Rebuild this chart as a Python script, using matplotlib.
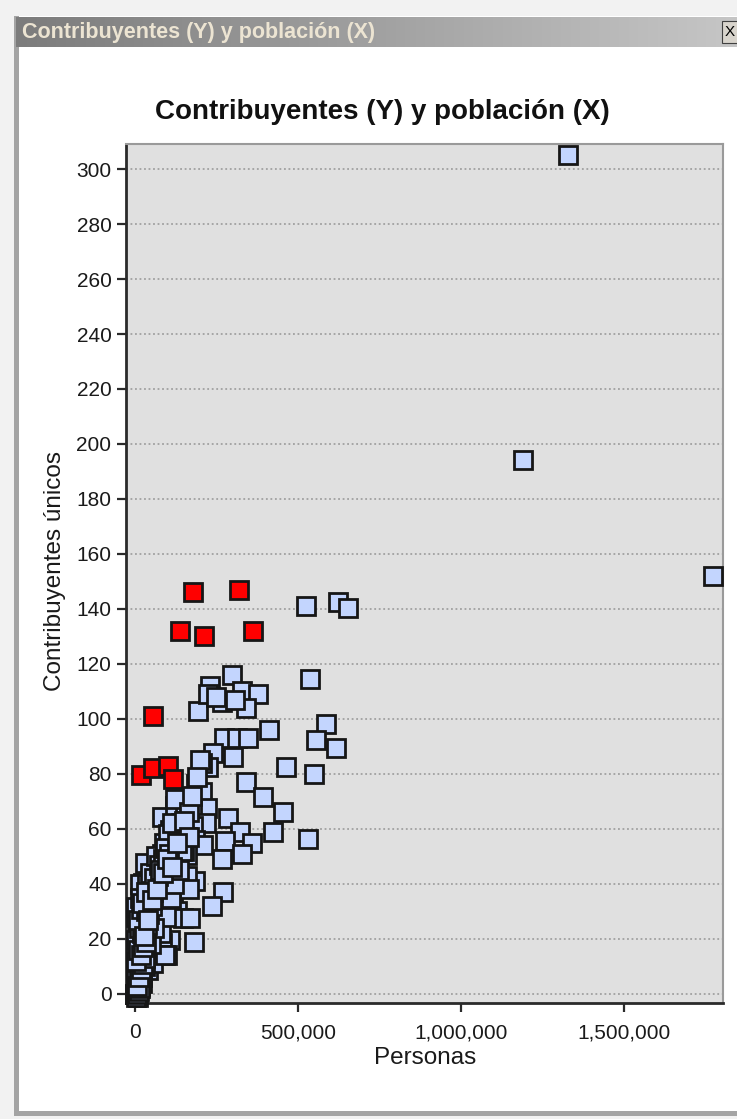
import matplotlib.pyplot as plt
import numpy as np
from matplotlib.patches import Rectangle
from matplotlib.ticker import FuncFormatter

plt.rcParams['font.family'] = ['Liberation Sans', 'DejaVu Sans']

W, H = 737, 1119

## data: poblacion (personas) vs contribuyentes unicos

blue_x = [1328000, 1190000, 1773000,
          525000, 623000, 653000,
          537000, 297000, 230000, 328000, 377000, 267000, 193000, 340000, 307000, 224000, 250000,
          411000, 586000, 555000, 617000, 273000, 312000, 347000,
          301000, 239000, 224000, 206000, 200000,
          463000, 549000, 340000, 393000, 187000, 206000, 190000,
          454000, 285000, 221000, 82000, 123000, 153000, 175000, 123000,
          423000, 530000, 322000, 107000, 181000, 218000, 178000, 140000,
          359000, 276000, 184000, 208000, 160000, 130000,
          328000, 267000, 82000, 160000, 107000, 150000,
          107000, 144000, 184000, 46000, 25000, 55000, 86000, 117000, 160000,
          270000, 236000, 166000, 181000,
          61000, 130000, 147000, 169000, 70000, 9000, 107000, 40000, 82000, 98000,
          25000, 40000, 6000, 9000, 55000, 92000, 2000, 3000, 2000, 15000, 2000,
          40000, 67000, 31000,
          5000, 10000, 15000, 20000, 30000, 12000, 20000, 35000, 45000, 50000,
          60000, 75000, 90000, 100000, 65000, 70000, 80000, 95000, 110000, 120000,
          125000, 135000, 88000, 100000, 115000, 145000, 165000, 150000, 175000, 165000,
          3000, 8000, 14000, 1000, 18000, 28000, 22000, 50000, 36000, 58000,
          4000, 7000, 11000, 16000, 2000, 6000, 13000, 19000, 24000, 30000,
          4000, 9000, 17000, 26000, 33000, 12000, 21000, 38000, 44000, 52000,
          10000, 18000, 27000, 35000, 43000, 48000, 56000, 63000, 72000, 78000,
          14000, 29000, 37000, 47000, 57000, 64000, 73000, 85000, 93000, 104000,
          23000, 33000, 41000, 53000, 68000, 78000, 87000, 97000, 112000, 128000]
blue_y = [305, 194, 152,
          141, 142.5, 140.5,
          114.5, 116, 112, 110, 109, 106, 103, 104, 107, 109, 108,
          96, 98, 92.5, 89.5, 93, 93, 93,
          86, 87.5, 82.5, 84, 85,
          82.5, 80, 77, 71.5, 76.5, 73.5, 79,
          66, 64, 67.5, 64.5, 68.5, 69.5, 67, 71,
          59, 56.5, 59, 59.5, 60, 62, 61, 62,
          55, 55.5, 56, 54, 57, 57,
          51, 49, 51, 50.5, 52, 52,
          44, 40, 41, 44, 40.5, 37, 35, 33.5, 43,
          37, 32, 38, 19,
          30, 30, 27.5, 27.5, 26, 23, 19.5, 17, 18.5, 14,
          13.5, 8.7, 3.3, -1, 11.3, 14, 8.7, 28, 31.6, 40, 19.6,
          46, 48, 47.5,
          0, 2, 5, 6, 10, 12, 20, 22, 25, 28,
          33, 38, 42, 45, 40, 30, 22, 28, 35, 40,
          48, 45, 55, 58, 62, 52, 66, 63, 72, 57,
          0, 1, 3, 0, 7, 15, 4, 18, 26, 24,
          -1, 0, 1, 2, 5, 3, 6, 9, 11, 13,
          12, 16, 14, 17, 19, 24, 22, 25, 29, 32,
          27, 31, 34, 30, 36, 39, 37, 41, 43, 46,
          35, 21, 40, 44, 42, 50, 47, 49, 53, 51,
          33, 37, 27, 34, 38, 45, 44, 49, 46, 55]

red_x = [18000, 55000, 100000, 117000, 55000, 138000, 178000, 212000, 319000, 362000]
red_y = [79.5, 82, 83, 78, 101, 132, 146, 130, 147, 132]

xticks = [0, 500000, 1000000, 1500000]
yticks = list(range(0, 301, 20))


def frac(x0, y0, w, h):
    return [x0 / W, 1 - (y0 + h) / H, w / W, h / H]


fig = plt.figure(figsize=(W / 100, H / 100), dpi=100)
fig.patch.set_facecolor('white')

# window chrome
for (x0, y0, w, h, c) in [(0, 0, W, 16, '#f2f2f2'), (0, 0, 14, H, '#f2f2f2'),
                          (14, 16, 5, 1100, '#a4a4a4'), (14, 1111, W, 5, '#a4a4a4'),
                          (0, 1116, W, 3, '#f2f2f2')]:
    r = frac(x0, y0, w, h)
    fig.add_artist(Rectangle((r[0], r[1]), r[2], r[3], transform=fig.transFigure,
                             facecolor=c, edgecolor='none', zorder=0))

bar = fig.add_axes(frac(16, 17, 721, 30))
grad = np.linspace(0, 1, 256).reshape(1, -1)
bar.imshow(grad, aspect='auto', cmap=plt.matplotlib.colors.LinearSegmentedColormap.from_list(
    'tb', ['#7c7c7c', '#c6c6c6']), extent=[0, 1, 0, 1])
bar.set_axis_off()
bar.text(0.009, 0.47, 'Contribuyentes (Y) y población (X)', transform=bar.transAxes,
         color='#ece4d2', fontsize=15.5, fontweight='bold', va='center', ha='left')
btn = frac(722, 21, 16, 22)
fig.add_artist(Rectangle((btn[0], btn[1]), btn[2], btn[3], transform=fig.transFigure,
                         facecolor='#d8d4cc', edgecolor='#404040', lw=0.8, zorder=5))
fig.text(730 / W, 1 - 32 / H, 'X', fontsize=11, ha='center', va='center', zorder=6)

fig.text(382 / W, 1 - 112 / H, 'Contribuyentes (Y) y población (X)', fontsize=20,
         fontweight='bold', ha='center', va='center', color='#111111')

ax = fig.add_axes(frac(126, 144, 597, 859))
ax.set_facecolor('#e0e0e0')
ax.plot(blue_x, blue_y, 's', color='#c3d5fe', markeredgecolor='#161616',
        markersize=12.5, markeredgewidth=2, linestyle='none', zorder=3, clip_on=False)
ax.plot(red_x, red_y, 's', color='#ff0000', markeredgecolor='#161616',
        markersize=12.5, markeredgewidth=2, linestyle='none', zorder=4)

ax.set_xlim(-27600, 1803700)
ax.set_ylim(-3.3, 309.1)
ax.set_xticks(xticks)
ax.set_yticks(yticks)
ax.xaxis.set_major_formatter(FuncFormatter(lambda v, p: f'{int(v):,}'))
ax.yaxis.grid(True, linestyle=(0, (1, 1.5)), color='#a0a0a0', linewidth=1.3, zorder=1)
ax.set_axisbelow(True)

for s in ['left', 'bottom']:
    ax.spines[s].set_color('#2a2a2a')
    ax.spines[s].set_linewidth(2)
for s in ['top', 'right']:
    ax.spines[s].set_color('#9a9a9a')
    ax.spines[s].set_linewidth(1.5)

ax.tick_params(axis='both', direction='out', length=6.5, width=1.6, color='#2a2a2a',
               labelsize=15, labelcolor='#1a1a1a')
ax.tick_params(axis='y', pad=4)
ax.tick_params(axis='x', pad=8)

ax.set_xlabel('Personas', fontsize=17.5, color='#1a1a1a')
ax.xaxis.set_label_coords(0.5008, -0.064)
ax.set_ylabel('Contribuyentes únicos', fontsize=17.5, color='#1a1a1a')
ax.yaxis.set_label_coords(-0.119, 0.503)
ax.xaxis.label.set_va('center')
ax.yaxis.label.set_va('center')

fig.savefig('out.png', dpi=100)
